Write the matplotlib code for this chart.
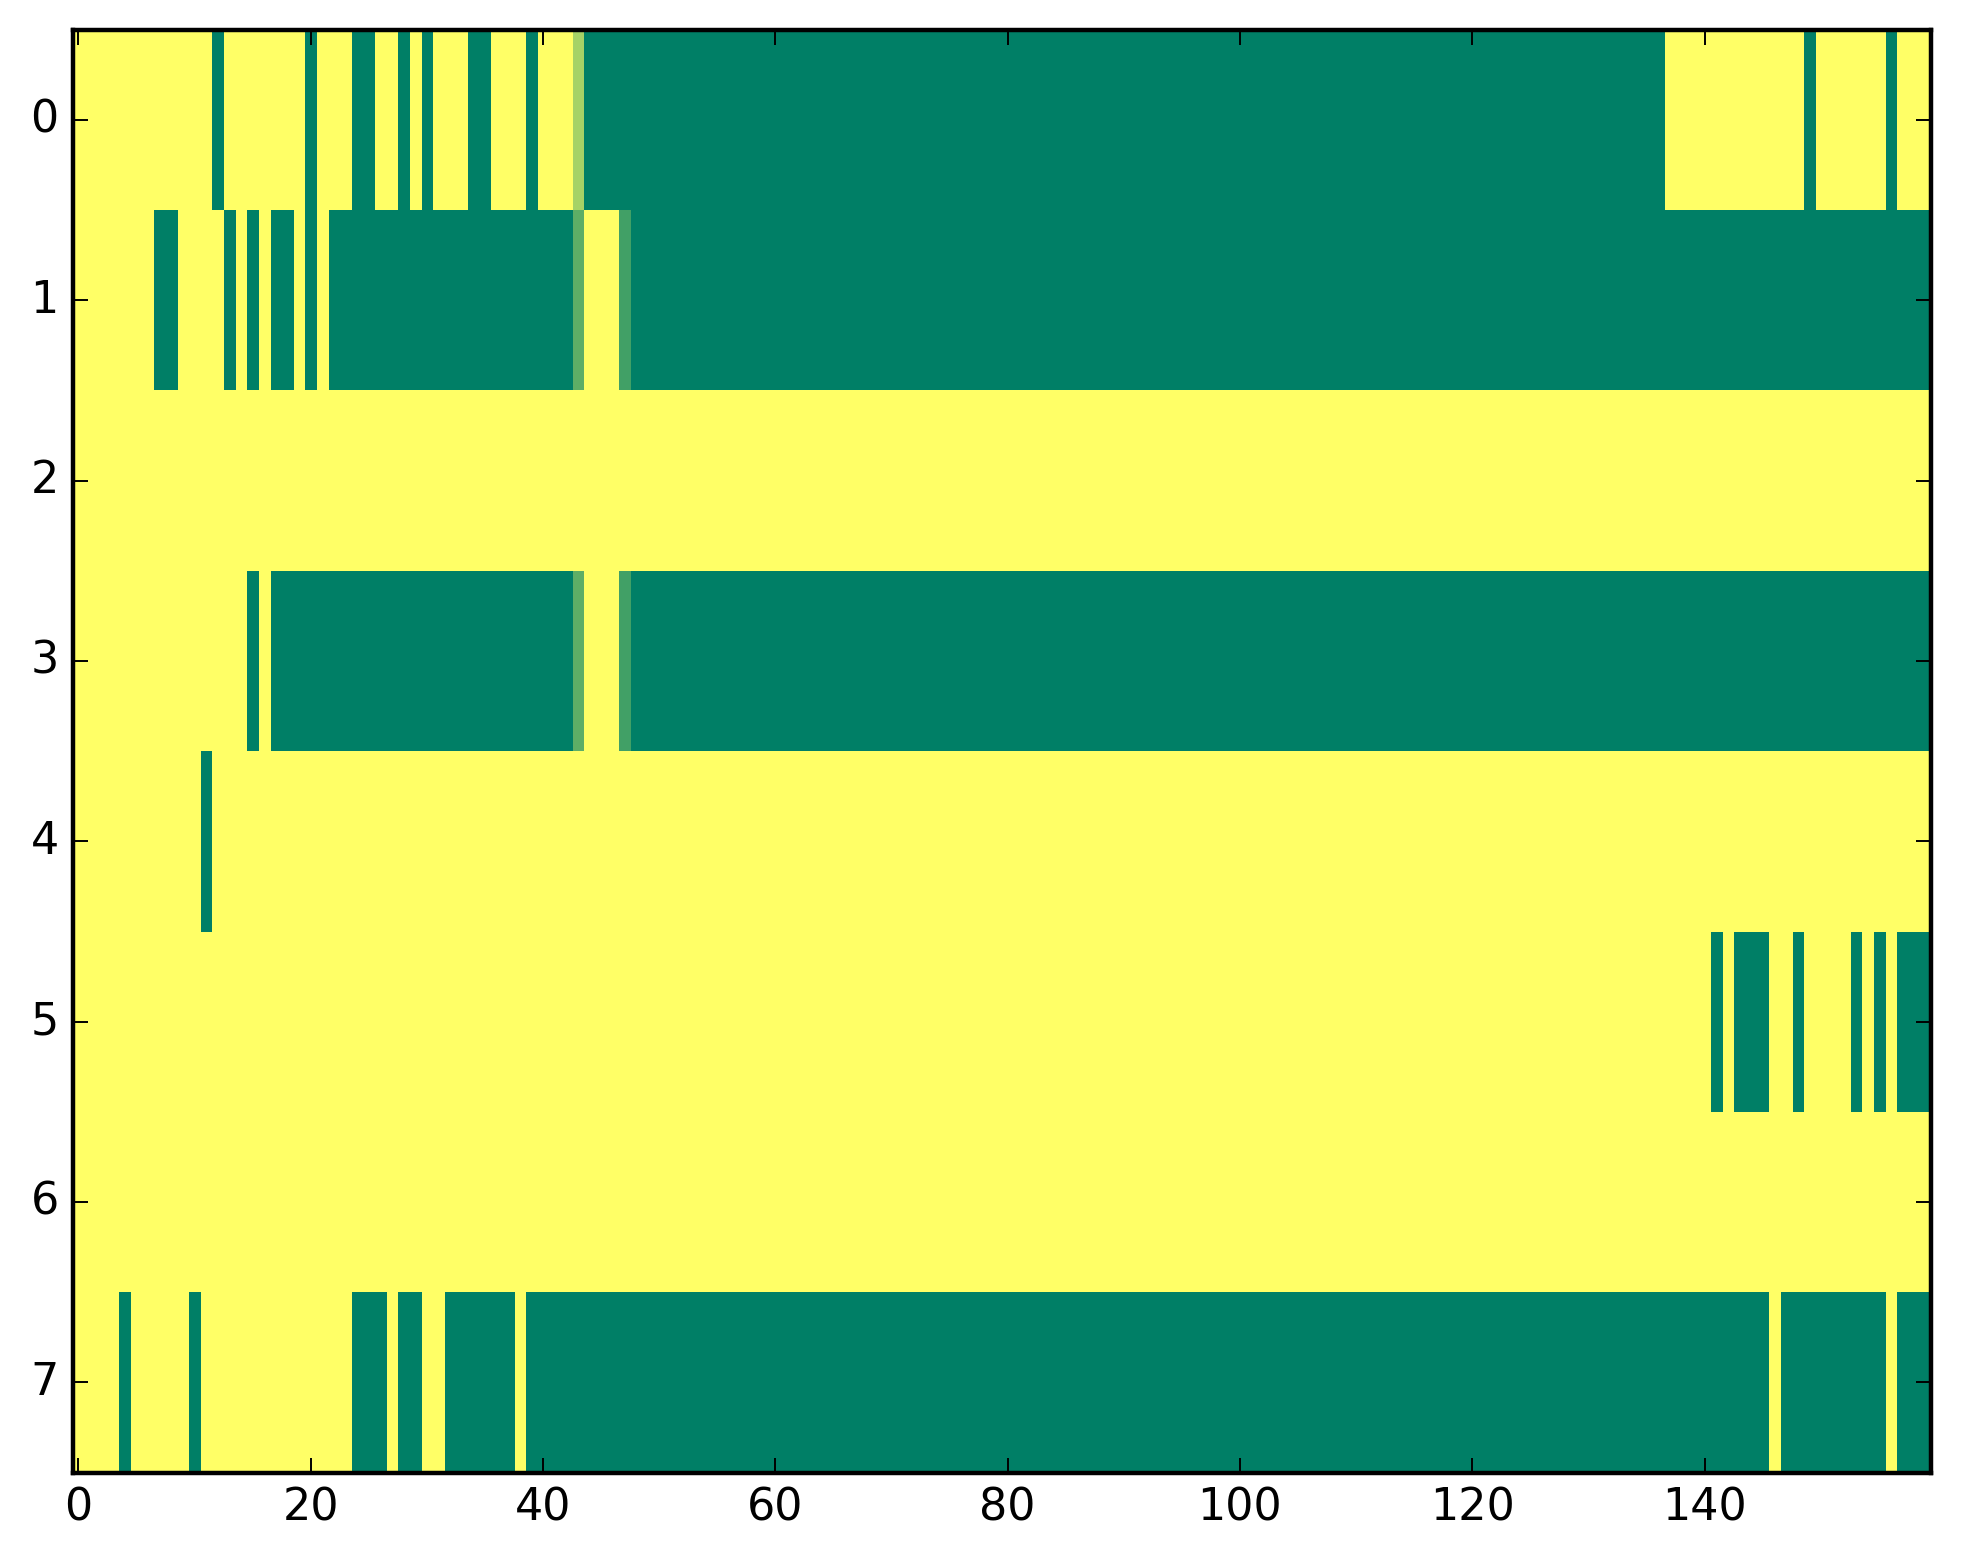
import matplotlib
matplotlib.use('Agg')
import matplotlib.pyplot as plt
import numpy as np

n_cols = 160

# green (0) runs per row, inclusive column ranges; everything else is yellow (1)
green_runs = [
    [(12, 12), (20, 20), (24, 25), (28, 28), (30, 30), (34, 35), (39, 39),
     (44, 136), (149, 149), (156, 156)],
    [(7, 8), (13, 13), (15, 15), (17, 18), (20, 20), (22, 42), (48, 159)],
    [],
    [(15, 15), (17, 42), (48, 159)],
    [(11, 11)],
    [(141, 141), (143, 145), (148, 148), (153, 153), (155, 155), (157, 159)],
    [],
    [(4, 4), (10, 10), (24, 26), (28, 29), (32, 37), (39, 145), (147, 155),
     (157, 159)],
]

# cells with in-between values: (row, col, value)
partial_cells = [(0, 43, 0.65), (1, 43, 0.37), (1, 47, 0.26),
                 (3, 43, 0.37), (3, 47, 0.26)]

data = np.ones((len(green_runs), n_cols))
for r, runs in enumerate(green_runs):
    for a, b in runs:
        data[r, a:b + 1] = 0.0
for r, c, v in partial_cells:
    data[r, c] = v

plt.style.use('classic')
plt.rcParams['font.family'] = ['DejaVu Sans']

fig = plt.figure(figsize=(9.815, 7.82), dpi=200)
ax = fig.add_axes([0.037, 0.0585, 0.9467, 0.9225])
ax.imshow(data, cmap='summer', vmin=0, vmax=1, aspect='auto',
          interpolation='nearest')
ax.set_xlim(-0.5, n_cols - 0.5)
ax.set_ylim(len(green_runs) - 0.5, -0.5)
ax.set_xticks(np.arange(0, 160, 20))
ax.set_yticks(np.arange(0, 8, 1))
for s in ax.spines.values():
    s.set_linewidth(1.6)
ax.tick_params(direction='in', length=5.4, width=0.7, labelsize=16,
               top=True, right=True, pad=5)

fig.savefig('out.png', dpi=200)
